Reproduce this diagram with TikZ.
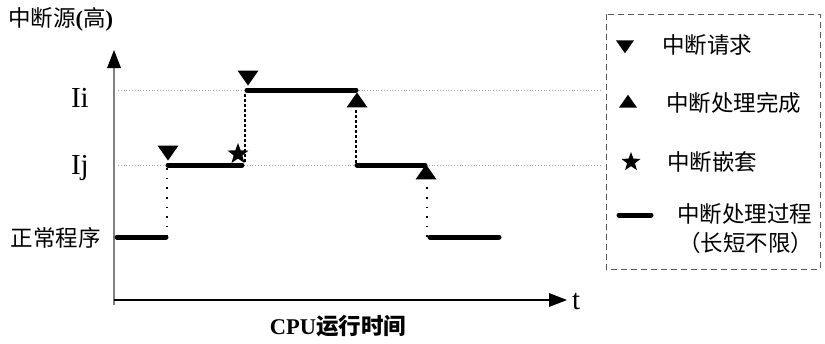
\documentclass[tikz,border=0pt]{standalone}
\usepackage{fontspec}
\setmainfont{Liberation Serif}
\newfontfamily\cjk{Noto Sans CJK SC}
\usetikzlibrary{arrows.meta,shapes.geometric,shapes.misc}
\begin{document}
\begin{tikzpicture}[x=1pt,y=-1pt,
  seg/.style={line width=5pt,line cap=round},
  guide/.style={gray!70,dotted,line width=0.8pt},
  sparse/.style={line width=1.6pt,dash pattern=on 1.6pt off 8pt},
  dense/.style={line width=2pt,dash pattern=on 3pt off 2pt},
  dtri/.style={isosceles triangle,isosceles triangle apex angle=70,shape border rotate=-90,fill=black,inner sep=0pt,minimum height=15pt,minimum width=19pt},
  utri/.style={isosceles triangle,isosceles triangle apex angle=70,shape border rotate=90,fill=black,inner sep=0pt,minimum height=15pt,minimum width=19pt},
  starm/.style={star,star points=5,star point ratio=2.4,fill=black,inner sep=0pt,minimum size=22pt},
  cn/.style={font=\cjk\fontsize{22.5}{26}\selectfont,inner sep=0pt},
  lat/.style={font=\fontsize{29}{32}\selectfont,inner sep=0pt}
]
\useasboundingbox (0,0) rectangle (825,343);
% axes
\coordinate (o) at (114,300);
\coordinate (ytop) at (114,50);
\coordinate (xend) at (567,300);
\draw[gray,line width=2pt] (114,305) -- (114,66);
\path[fill=black] (ytop) -- (107,68) -- (121,68) -- cycle;
\draw[line width=1.3pt] (o) -- (550,300);
\path[fill=black] (xend) -- (549,293) -- (549,307) -- cycle;
\node[lat,anchor=west] (t) at (572,301) {t};
% guides
\draw[guide] (118,90) -- (600,90);
\draw[guide] (118,165) -- (600,165);
% labels
\node[cn,anchor=west] (src) at (8,19) {中断源\textbf{\fontspec{Liberation Serif}(}高\textbf{\fontspec{Liberation Serif})}};
\node[lat,anchor=east] (ii) at (89,98) {Ii};
\node[lat,anchor=east] (ij) at (89,168) {Ij};
\node[cn,anchor=east] (nor) at (101,238) {正常程序};
\node[font=\cjk\bfseries\fontsize{22.5}{26}\selectfont,inner sep=0pt] (cpu) at (338,326) {\textbf{\fontspec{Liberation Serif}CPU}运行时间};
% segments
\coordinate (a1) at (117,237); \coordinate (a2) at (166,237);
\coordinate (b1) at (168,165); \coordinate (b2) at (242,165);
\coordinate (c1) at (247,90);  \coordinate (c2) at (356,90);
\coordinate (d1) at (357,165); \coordinate (d2) at (425,165);
\coordinate (e1) at (430,237); \coordinate (e2) at (499,237);
\draw[seg] (a1) -- (a2);
\draw[seg] (b1) -- (b2);
\draw[seg] (c1) -- (c2);
\draw[seg] (d1) -- (d2);
\draw[seg] (e1) -- (e2);
% vertical transitions
\draw[sparse] (167,237) -- (167,168);
\draw[dense] (244.5,162) -- (244.5,92);
\draw[dense] (356,163) -- (356,110);
\draw[sparse] (427,237) -- (427,180);
% markers
\node[dtri] (r1) at (168,151) {};
\node[dtri] (r2) at (248,76) {};
\node[starm] (s1) at (238,154) {};
\node[utri] (f1) at (357,102) {};
\node[utri] (f2) at (426,174) {};
% legend
\draw[line width=0.8pt,gray!70!black,dash pattern=on 6pt off 4pt] (606,14) rectangle (820,269);
\node[dtri,minimum height=13pt,minimum width=17pt] (l1) at (625,45) {};
\node[cn,anchor=west] (lt1) at (662,45) {中断请求};
\node[utri,minimum height=13pt,minimum width=17pt] (l2) at (628,103) {};
\node[cn,anchor=west] (lt2) at (666,103) {中断处理完成};
\node[starm,minimum size=20pt] (l3) at (631,162) {};
\node[cn,anchor=west] (lt3) at (667,162) {中断嵌套};
\coordinate (l4a) at (619,215); \coordinate (l4b) at (651,215);
\draw[seg] (l4a) -- (l4b);
\node[cn,anchor=west] (lt4) at (677,214) {中断处理过程};
\node[cn,anchor=west] (lt5) at (678,243) {（长短不限）};
\end{tikzpicture}
\end{document}
